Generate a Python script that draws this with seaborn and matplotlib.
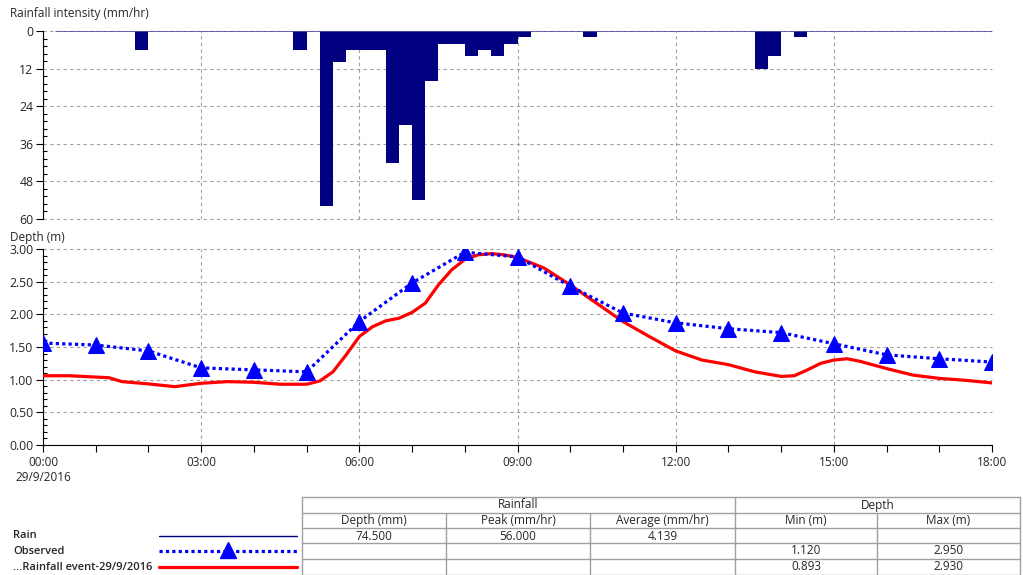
import numpy as np
import pandas as pd
import matplotlib.pyplot as plt
from matplotlib.ticker import MultipleLocator, AutoMinorLocator, FuncFormatter
import seaborn as sns

# rainfall in 15 minute bins: bin start (hours from 00:00) and intensity (mm/hr)
rain_start = [1.75, 4.75, 5.25, 5.5, 5.75, 6.0, 6.25, 6.5, 6.75, 7.0, 7.25, 7.5, 7.75,
              8.0, 8.25, 8.5, 8.75, 9.0, 10.25, 13.5, 13.75, 14.25]
rain_mmhr = [6, 6, 56, 10, 6, 6, 6, 42, 30, 54, 16, 4, 4, 8, 6, 8, 4, 2, 2, 12, 8, 2]

# observed depth, hourly
obs_hour = list(range(19))
obs_depth = [1.56, 1.53, 1.44, 1.18, 1.15, 1.12, 1.89, 2.48, 2.95, 2.88, 2.43,
             2.02, 1.87, 1.78, 1.72, 1.55, 1.38, 1.32, 1.27]

# simulated depth (Rainfall event-29/9/2016)
sim_hour = [0, 0.5, 1, 1.25, 1.5, 2, 2.5, 3, 3.5, 4, 4.5, 5, 5.25, 5.5, 5.75,
            6, 6.25, 6.5, 6.75, 7, 7.25, 7.5, 7.75, 8, 8.25, 8.5, 8.75, 9, 9.5,
            10, 10.5, 11, 11.5, 12, 12.5, 13, 13.5, 14, 14.25, 14.5, 14.75, 15,
            15.25, 15.5, 16, 16.5, 17, 17.5, 18]
sim_depth = [1.06, 1.06, 1.04, 1.03, 0.97, 0.935, 0.893, 0.945, 0.97, 0.96, 0.93,
             0.93, 0.98, 1.12, 1.38, 1.66, 1.81, 1.90, 1.94, 2.03, 2.17, 2.45, 2.68,
             2.84, 2.91, 2.93, 2.91, 2.87, 2.71, 2.45, 2.17, 1.89, 1.66, 1.44, 1.30,
             1.23, 1.12, 1.05, 1.06, 1.15, 1.25, 1.30, 1.32, 1.28, 1.17, 1.07, 1.02,
             0.99, 0.95]

tick_hours = [0, 3, 6, 9, 12, 15, 18]
tick_labels = ["00:00\n29/9/2016", "03:00", "06:00", "09:00", "12:00", "15:00", "18:00"]

sns.set_style("white")
plt.rcParams["font.family"] = ["Open Sans", "DejaVu Sans"]
plt.rcParams["font.size"] = 8

NAVY = "#000080"
BLUE = "#0000ff"
RED = "#ff0000"
GRID = "#a0a0a0"
FS = 8.5

fig = plt.figure(figsize=(10.23, 5.75), dpi=100)
W, H = 1023, 575

def box(l, t, r, b):
    return [l / W, 1 - b / H, (r - l) / W, (b - t) / H]

ax_r = fig.add_axes(box(43, 31, 992, 219))
ax_d = fig.add_axes(box(43, 249, 992, 445))

# rainfall hyetograph (bin centres so each value lands in its own 15 min bin)
rain = pd.DataFrame({"mid": np.array(rain_start) + 0.125, "mmhr": rain_mmhr})
sns.histplot(data=rain, x="mid", weights="mmhr", binwidth=0.25, binrange=(0, 18),
             element="bars", color=NAVY, alpha=1, linewidth=0, ax=ax_r)
ax_r.axhline(0, xmin=0.25 / 18, xmax=1, color="#5050a8", lw=1.2, zorder=3)
ax_r.set_xlim(0, 18)
ax_r.set_ylim(60, 0)
ax_r.yaxis.set_major_locator(MultipleLocator(12))
ax_r.yaxis.set_minor_locator(AutoMinorLocator(5))
ax_r.xaxis.set_major_locator(MultipleLocator(3))
ax_r.set_xticklabels([])
ax_r.tick_params(axis="x", length=0)
ax_r.set_xlabel("")
ax_r.set_ylabel("")

# depth plot
sns.lineplot(x=sim_hour, y=sim_depth, color=RED, lw=2.3, ax=ax_d, zorder=3)
sns.lineplot(x=obs_hour, y=obs_depth, color=BLUE, lw=2.3, ls=(0, (1, 1)),
             marker="^", markersize=11.5, markeredgecolor=BLUE, ax=ax_d, zorder=4)
ax_d.set_xlim(0, 18)
ax_d.set_ylim(0, 3)
ax_d.yaxis.set_major_locator(MultipleLocator(0.5))
ax_d.yaxis.set_minor_locator(AutoMinorLocator(5))
ax_d.yaxis.set_major_formatter(FuncFormatter(lambda v, p: f"{v:.2f}"))
ax_d.set_xticks(tick_hours)
ax_d.set_xticklabels(tick_labels, fontsize=FS, linespacing=1.15)
ax_d.xaxis.set_minor_locator(MultipleLocator(1))
ax_d.tick_params(axis="x", which="both", direction="out", length=5, width=0.8,
                 color="black", pad=3, bottom=True)

for ax in (ax_r, ax_d):
    ax.grid(True, which="major", ls=(0, (3, 3)), color=GRID, lw=0.8)
    for gl in ax.get_ygridlines():
        gl.set_clip_on(False)
    for s in ("top", "right"):
        ax.spines[s].set_visible(False)
    ax.spines["left"].set_color("black")
    ax.spines["bottom"].set_color("black")
    ax.tick_params(axis="y", which="major", direction="out", length=5, width=0.8,
                   color="black", labelsize=FS + 0.3, pad=2, left=True)
    ax.tick_params(axis="y", which="minor", direction="in", length=3, width=0.8,
                   color="black", left=True)
    ax.set_axisbelow(True)
ax_r.spines["bottom"].set_visible(False)

fig.text(10 / W, 1 - 13 / H, "Rainfall intensity (mm/hr)", fontsize=FS, va="center")
fig.text(10 / W, 1 - 237 / H, "Depth (m)", fontsize=FS, va="center")

# legend and statistics table, laid out in pixel coordinates
ax_t = fig.add_axes([0, 0, 1, 1], facecolor="none")
ax_t.set_xlim(0, W)
ax_t.set_ylim(H, 0)
ax_t.axis("off")

rows_y = [536, 551, 567]
names = ["Rain", "Observed", "...Rainfall event-29/9/2016"]
for y, n in zip(rows_y, names):
    ax_t.text(13, y, n, fontsize=8, fontweight="semibold", va="center")
ax_t.plot([159, 297], [rows_y[0]] * 2, color=NAVY, lw=1)
ax_t.plot([159, 297], [rows_y[1]] * 2, color=BLUE, lw=2.3, ls=(0, (1, 1)))
ax_t.plot([228], [rows_y[1] - 1], marker="^", markersize=11.5, color=BLUE)
ax_t.plot([159, 297], [rows_y[2]] * 2, color=RED, lw=2.3)

tc = "#a0a0a0"
col_x = [302, 446, 590, 735, 877, 1020]
line_y = [497, 513, 528, 543, 559, 575]
for y in line_y:
    ax_t.plot([col_x[0], col_x[-1]], [y, y], color=tc, lw=1)
for i, x in enumerate(col_x):
    top = 497 if i in (0, 3, 5) else 513
    ax_t.plot([x, x], [top, 575], color=tc, lw=1)

ax_t.text((302 + 735) / 2, 505, "Rainfall", ha="center", va="center", fontsize=FS)
ax_t.text((735 + 1020) / 2, 505, "Depth", ha="center", va="center", fontsize=FS)
heads = ["Depth (mm)", "Peak (mm/hr)", "Average (mm/hr)", "Min (m)", "Max (m)"]
centers = [(col_x[i] + col_x[i + 1]) / 2 for i in range(5)]
for c, h in zip(centers, heads):
    ax_t.text(c, 520.5, h, ha="center", va="center", fontsize=FS)

total = sum(rain_mmhr) * 0.25
stats = [
    [f"{total:.3f}", f"{max(rain_mmhr):.3f}", f"{total / 18:.3f}", "", ""],
    ["", "", "", f"{min(obs_depth):.3f}", f"{max(obs_depth):.3f}"],
    ["", "", "", f"{min(sim_depth):.3f}", f"{max(sim_depth):.3f}"],
]
for y, row in zip(rows_y, stats):
    for c, v in zip(centers, row):
        ax_t.text(c, y, v, ha="center", va="center", fontsize=FS)

fig.savefig("out.png", dpi=100)
